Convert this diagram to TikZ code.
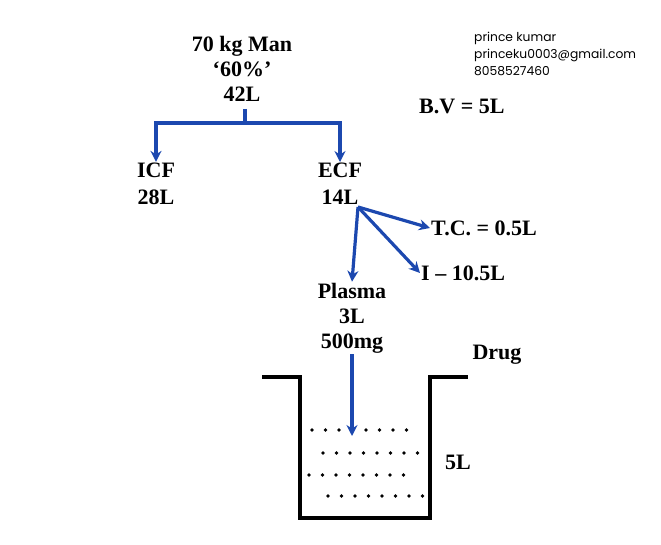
\documentclass[tikz,border=0pt]{standalone}
\usepackage{fontspec}
\setmainfont{Liberation Serif}
\newfontfamily\notefont{Poppins}
\usetikzlibrary{arrows.meta,positioning}
\definecolor{penblue}{RGB}{28,72,175}

\begin{document}
\begin{tikzpicture}[x=1pt, y=-1pt,
    label/.style={align=center, inner sep=1pt, font=\fontsize{22}{25}\selectfont\bfseries},
    pair/.style={label, font=\fontsize{22}{27}\selectfont\bfseries},
    note/.style={align=left, inner sep=0pt, font=\notefont\fontsize{12.3}{17}\selectfont},
    link/.style={draw=penblue, line width=3.2pt},
    arrow/.style={link, -{Stealth[length=11pt, width=11pt]}},
    wall/.style={draw=black, line width=3.2pt},
    particle/.style={circle, fill=black, inner sep=0pt, minimum size=3.8pt}
  ]
    \useasboundingbox (0,0) rectangle (661,545);
    \node[label] (man) at (242,69) {70 kg Man\\`60\%'\\42L};
    \node[pair] (icf) at (156,184) {ICF\\28L};
    \node[pair] (ecf) at (340,184) {ECF\\14L};
    \node[label, anchor=west] (tc) at (430,228) {T.C. = 0.5L};
    \node[label, anchor=west] (isf) at (420,273) {I -- 10.5L};
    \node[label] (plasma) at (352,318) {Plasma\\3L\\500mg};
    \node[label] (drug) at (497,355) {Drug};
    \node[label] (vol) at (458,462) {5L};
    \node[label, anchor=west] (bv) at (418,106) {B.V = 5L};
    \node[note, anchor=north west] (author) at (474,32) {prince kumar\\princeku0003@gmail.com\\8058527460};
    % water split
    \coordinate (fork) at (245,123);
    \coordinate (hub) at (358,207);
    \draw[link] (245,109) -- (fork);
    \draw[arrow] (fork) -| (icf.north);
    \draw[arrow] (fork) -| (ecf.north);
    \draw[arrow] (hub) -- (tc.west);
    \draw[arrow] (hub) -- (isf.west);
    \draw[arrow] (hub) -- (plasma.north);
    % beaker
    \draw[wall] (262,377) -- (300,377) -- (300,518) -- (430,518) -- (430,377) -- (468,377);
    \coordinate (drop) at (352,436);
    \draw[arrow] (plasma.south) -- (drop);
    \foreach \x in {0,...,7} {
      \ifnum\x=3 \else \node[particle] at (312+13.5*\x,430) {}; \fi
      \node[particle] at (323+13.5*\x,453) {};
      \node[particle] at (309+13.5*\x,475) {};
      \node[particle] at (328+13.5*\x,496) {};
    }
  \end{tikzpicture}
\end{document}
